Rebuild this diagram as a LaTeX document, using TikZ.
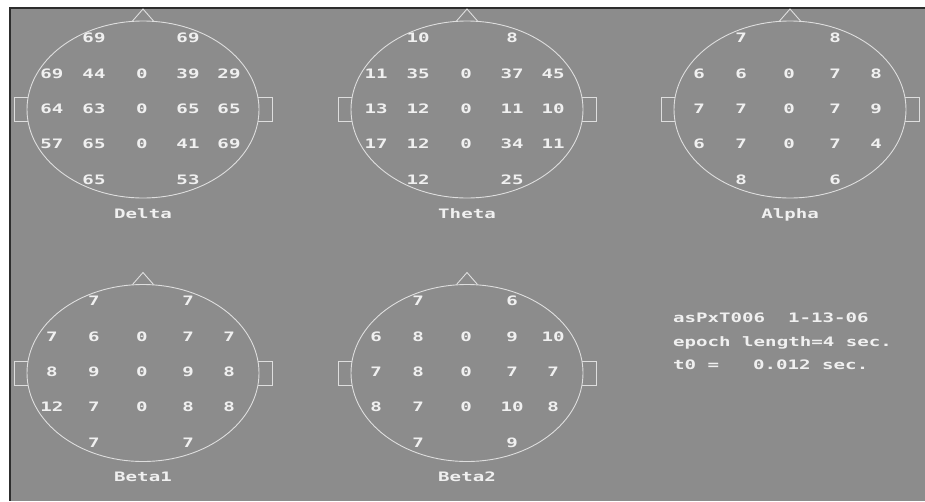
\documentclass[tikz,border=0pt]{standalone}
\usepackage{fontspec}
\newfontfamily\pix[FakeStretch=1.47]{DejaVu Sans Mono}
\definecolor{bg}{RGB}{140,140,140}
\definecolor{txt}{RGB}{240,240,240}
\definecolor{linec}{RGB}{222,222,222}
\definecolor{frame}{RGB}{45,45,45}
\tikzset{
  val/.style={text=txt, font=\pix\bfseries\fontsize{13}{13}\selectfont, inner sep=0pt, text height=9.5pt, text depth=0pt},
  outline/.style={draw=linec, line width=0.9pt},
}
\newcommand\eeghead[9]{%
\begin{scope}[shift={(#2,#3)}]
  \coordinate (#1) at (0,0);
  \draw[outline] (0,0) ellipse [x radius=116pt, y radius=88.5pt];
  \draw[outline] (-10.5,-88.5) -- (0,-100.5) -- (10.5,-88.5);
  \draw[outline] (-115,-12) -- (-129,-12) -- (-129,12) -- (-115,12);
  \draw[outline] (115,-12) -- (129,-12) -- (129,12) -- (115,12);
  \foreach \v [count=\i] in {#5} {\pgfmathsetmacro\cx{{-49,45}[\i-1]}\node[val] (#1-t\i) at (\cx,-72) {\v};}
  \foreach \v [count=\i] in {#6} {\pgfmathsetmacro\cx{{-91,-49,-1,45,86}[\i-1]}\node[val] (#1-a\i) at (\cx,-36) {\v};}
  \foreach \v [count=\i] in {#7} {\pgfmathsetmacro\cx{{-91,-49,-1,45,86}[\i-1]}\node[val] (#1-b\i) at (\cx,-1) {\v};}
  \foreach \v [count=\i] in {#8} {\pgfmathsetmacro\cx{{-91,-49,-1,45,86}[\i-1]}\node[val] (#1-c\i) at (\cx,34) {\v};}
  \foreach \v [count=\i] in {#9} {\pgfmathsetmacro\cx{{-49,45}[\i-1]}\node[val] (#1-d\i) at (\cx,70) {\v};}
  \node[val] (#1-name) at (0,104) {#4};
\end{scope}}
\begin{document}
\begin{tikzpicture}[x=1pt,y=-1pt]
\useasboundingbox (0,0) rectangle (925,501);
\fill[white] (0,0) rectangle (925,501);
\fill[bg] (9,7) rectangle (925,501);
\draw[frame, line width=2pt] (9,8) -- (925,8);
\draw[frame, line width=2.5pt] (10.2,7) -- (10.2,501);

\eeghead{delta}{143}{109.5}{Delta}{69,69}{69,44,0,39,29}{64,63,0,65,65}{57,65,0,41,69}{65,53}
\eeghead{theta}{467}{109.5}{Theta}{10,8}{11,35,0,37,45}{13,12,0,11,10}{17,12,0,34,11}{12,25}
\eeghead{alpha}{790}{109.5}{Alpha}{7,8}{6,6,0,7,8}{7,7,0,7,9}{6,7,0,7,4}{8,6}
\eeghead{betaone}{143}{373}{Beta1}{7,7}{7,6,0,7,7}{8,9,0,9,8}{12,7,0,8,8}{7,7}
\eeghead{betatwo}{467}{373}{Beta2}{7,6}{6,8,0,9,10}{7,8,0,7,7}{8,7,0,10,8}{7,9}

\node[val, anchor=west] (info1) at (673,318) {asPxT006};
\node[val, anchor=west] (info1b) at (788,318) {1-13-06};
\node[val, anchor=west] (info2) at (673,342) {epoch length=4 sec.};
\node[val, anchor=west] (info3) at (673,365) {t0 =};
\node[val, anchor=west] (info3b) at (753,365) {0.012 sec.};
\end{tikzpicture}
\end{document}
